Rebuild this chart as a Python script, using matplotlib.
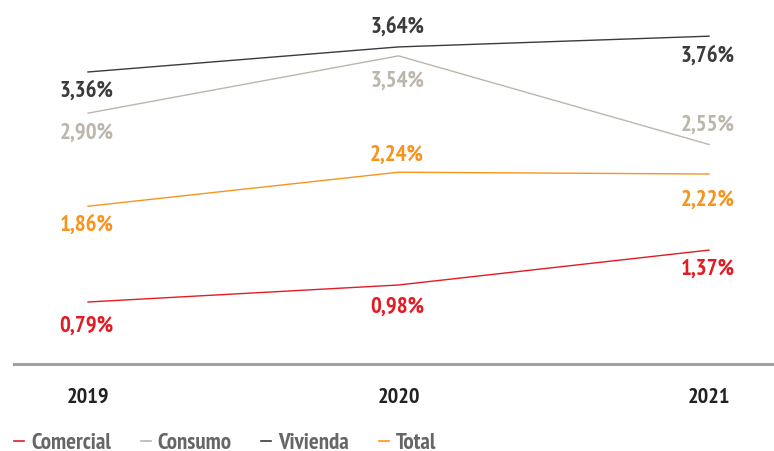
import matplotlib
matplotlib.use("Agg")
import matplotlib.pyplot as plt
import warnings
warnings.filterwarnings("ignore")

years = [2019, 2020, 2021]
series_names = ["Comercial", "Consumo", "Vivienda", "Total"]
comercial = [0.79, 0.98, 1.37]
consumo = [2.90, 3.54, 2.55]
vivienda = [3.36, 3.64, 3.76]
total = [1.86, 2.24, 2.22]

fam = ["PT Sans Narrow", "Roboto Condensed", "Fira Sans Condensed",
       "Barlow Condensed", "Archivo Narrow", "DejaVu Sans"]

fig = plt.figure(figsize=(7.74, 4.51), dpi=100)
ax = fig.add_axes([14/774, (451-364)/451, 760/774, 364/451])
data = [comercial, consumo, vivienda, total]
colors = ["#e31b23", "#bcb6ac", "#3b3b3b", "#f7941d"]
# label offsets in pixels (per series, per year)
offsets = [
    [-24, -22, -19],
    [-20, -25, 19],
    [-19, 20, -20],
    [-19, 17, -26],
]
for vals, c, offs in zip(data, colors, offsets):
    ax.plot(years, vals, color=c, lw=1.0)
    for x, v, o in zip(years, vals, offs):
        ax.annotate(f"{v:.2f}%".replace(".", ","), (x, v), xytext=(-1, o * 0.72),
                    textcoords="offset points", ha="center", va="center",
                    color=c, fontsize=16.5, fontweight="bold", family=fam)
ax.set_xlim(2019 - 74/310.5, 2021 + 65/310.5)
ax.set_ylim((372.7-364)/89.5, 372.7/89.5)
for s in ["top", "right", "left"]:
    ax.spines[s].set_visible(False)
ax.spines["bottom"].set_color("#a0a0a0")
ax.spines["bottom"].set_linewidth(2.2)
ax.set_yticks([])
ax.set_xticks(years)
ax.set_xticklabels([str(y) for y in years], fontsize=16, fontweight="bold",
                   family=fam, color="#222222")
ax.tick_params(axis="x", length=0, pad=17)

handles = [plt.Line2D([], [], color=c, lw=1.2) for c in colors]
leg = fig.legend(handles, series_names, loc="center left", bbox_to_anchor=(14/774, 8/451),
                 ncol=4, frameon=False, handlelength=0.44, handletextpad=0.3,
                 columnspacing=1.3, borderpad=0, borderaxespad=0,
                 prop={"family": fam, "weight": "bold", "size": 16.5})
for t in leg.get_texts():
    t.set_color("#666666")
fig.savefig("out.png", dpi=100)
